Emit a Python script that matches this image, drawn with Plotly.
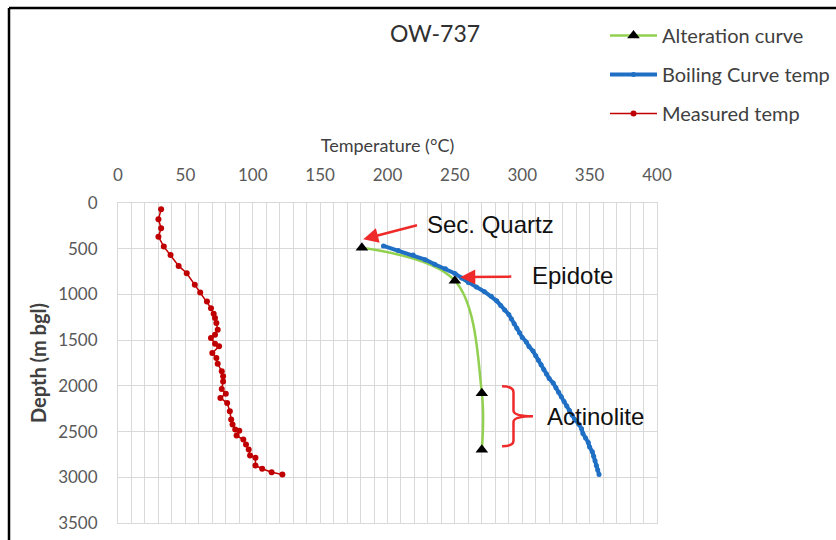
import plotly.graph_objects as go

# ---------------- data ----------------
measured_depth = [69, 178, 277, 368, 477, 568, 688, 768, 895, 979, 1077, 1150, 1212, 1259,
                  1313, 1387, 1441, 1477, 1539, 1568, 1641, 1696, 1758, 1841, 1896, 1951,
                  2034, 2085, 2132, 2187, 2278, 2369, 2424, 2478, 2490, 2544, 2587, 2642,
                  2697, 2762, 2787, 2871, 2907, 2944, 2969]
measured_temp = [32, 30, 32, 30, 34, 39, 45, 51, 57, 61, 66, 69, 71, 72,
                 73, 74, 72, 69, 72, 75, 70, 73, 74, 77, 78, 78,
                 77, 80, 76, 81, 83, 84, 85, 87, 90, 88, 93, 95,
                 97, 98, 102, 102, 107, 114, 122]

boiling_depth = [470, 520, 570, 620, 670, 720, 770, 820, 870, 920, 970, 1020, 1070, 1120,
                 1170, 1220, 1270, 1320, 1370, 1420, 1470, 1520, 1570, 1620, 1670, 1720,
                 1770, 1820, 1870, 1920, 1970, 2020, 2070, 2120, 2170, 2220, 2270, 2320,
                 2370, 2420, 2470, 2520, 2570, 2620, 2670, 2720, 2770, 2820, 2870, 2920, 2970]
boiling_temp = [197, 208, 219, 228, 235, 243, 250, 255, 260, 266, 272, 277, 281, 284,
                287, 290, 292, 294, 296, 298, 300, 303, 305, 308, 310, 312,
                314, 316, 318, 320, 323, 325, 327, 329, 331, 333, 335, 337,
                339, 342, 344, 345, 347, 349, 350, 352, 353, 354, 355, 356, 357]

alteration_depth = [490, 850, 2080, 2700]
alteration_temp = [181, 250, 270, 270]

x_ticks = [0, 50, 100, 150, 200, 250, 300, 350, 400]
y_ticks = [0, 500, 1000, 1500, 2000, 2500, 3000, 3500]

# ---------------- figure ----------------
W, H = 836, 540
L, R, T, B = 118, 657, 203, 523
PW, PH = R - L, B - T


def px(xp):
    return (xp - L) / PW


def py(yp):
    return (B - yp) / PH


fig = go.Figure()

fig.add_trace(go.Scatter(
    x=alteration_temp, y=alteration_depth, name="Alteration curve",
    mode="lines+markers", line=dict(color="#92d050", width=2.5, shape="spline", smoothing=1.0),
    marker=dict(symbol="triangle-up", size=11, color="black"),
    legendgroup="a"))
fig.add_trace(go.Scatter(
    x=boiling_temp, y=boiling_depth, name="Boiling Curve temp",
    mode="lines+markers", line=dict(color="#1f6fc5", width=4),
    marker=dict(symbol="circle", size=5, color="#1f6fc5"),
    legendgroup="b"))
fig.add_trace(go.Scatter(
    x=measured_temp, y=measured_depth, name="Measured temp",
    mode="lines+markers", line=dict(color="#c00000", width=1.5),
    marker=dict(symbol="circle", size=6, color="#c00000"),
    legendgroup="c"))

grid = "#d9d9d9"
tickfont = dict(family="Lato", size=17, color="#595959")

fig.update_xaxes(
    range=[0, 400], side="top", tickvals=x_ticks, ticks="", ticklabelstandoff=14,
    showgrid=True, gridcolor=grid, gridwidth=1,
    minor=dict(dtick=10, showgrid=True, gridcolor=grid, gridwidth=1),
    showline=True, linecolor=grid, mirror=True, zeroline=False, automargin=False,
    tickfont=tickfont,
    title=dict(text="Temperature (°C)", font=dict(family="Lato", size=18, color="#404040"), standoff=6))
fig.update_yaxes(
    range=[3500, 0], tickvals=y_ticks, ticks="", ticklabelstandoff=16,
    showgrid=True, gridcolor=grid, gridwidth=1,
    showline=True, linecolor=grid, mirror=True, zeroline=False, automargin=False,
    tickfont=tickfont,
    title=dict(text="<b>Depth (m bgl)</b>", font=dict(family="Lato", size=20, color="#404040"), standoff=6))

annot_font = dict(family="Liberation Sans", size=24, color="#111111")
arrow_col = "#ee2a2a"
fig.add_annotation(x=182, y=396, ax=223, ay=240, axref="x", ayref="y", xref="x", yref="y",
                   text="", showarrow=True, arrowhead=2, arrowsize=1.2, arrowwidth=2.5,
                   arrowcolor=arrow_col)
fig.add_annotation(x=254, y=811, ax=293, ay=805, axref="x", ayref="y", xref="x", yref="y",
                   text="", showarrow=True, arrowhead=2, arrowsize=1.2, arrowwidth=2.5,
                   arrowcolor=arrow_col)
fig.add_annotation(x=228, y=240, xref="x", yref="y", text="Sec. Quartz", showarrow=False,
                   xanchor="left", yanchor="middle", font=annot_font)
fig.add_annotation(x=306, y=797, xref="x", yref="y", text="Epidote", showarrow=False,
                   xanchor="left", yanchor="middle", font=annot_font)
fig.add_annotation(x=317, y=2333, xref="x", yref="y", text="Actinolite", showarrow=False,
                   xanchor="left", yanchor="middle", font=annot_font)

# curly bracket
fig.add_shape(type="path", xref="x", yref="y",
              path="M 285,2005 Q 293.5,2005 293.5,2070 L 293.5,2270 Q 293.5,2333 308,2333 "
                   "Q 293.5,2333 293.5,2396 L 293.5,2600 Q 293.5,2660 285,2660",
              line=dict(color=arrow_col, width=2.5))

# outer frame lines (top and left)
fig.add_shape(type="line", xref="paper", yref="paper",
              x0=px(9), x1=px(W + 2), y0=py(8), y1=py(8),
              line=dict(color="black", width=2.5))
fig.add_shape(type="line", xref="paper", yref="paper",
              x0=px(9), x1=px(9), y0=py(8), y1=py(H + 2),
              line=dict(color="black", width=2.5))

fig.update_layout(
    width=W, height=H,
    margin=dict(l=L, r=W - R, t=T, b=H - B, pad=0, autoexpand=False),
    paper_bgcolor="white", plot_bgcolor="white",
    title=dict(text="OW-737", x=435 / W, xref="container", xanchor="center",
               y=1 - 34 / H, yref="container", yanchor="middle",
               font=dict(family="Lato", size=23, color="#303030")),
    showlegend=True,
    legend=dict(x=px(605), xref="paper", y=py(16), yref="paper",
                xanchor="left", yanchor="top", itemwidth=47,
                font=dict(family="Lato", size=20, color="#404040"),
                tracegroupgap=10, traceorder="grouped",
                bgcolor="rgba(0,0,0,0)"),
)

fig.write_html("out.html", config={"displayModeBar": False},
               post_script="document.body.style.margin='0';document.body.style.overflow='hidden';")
